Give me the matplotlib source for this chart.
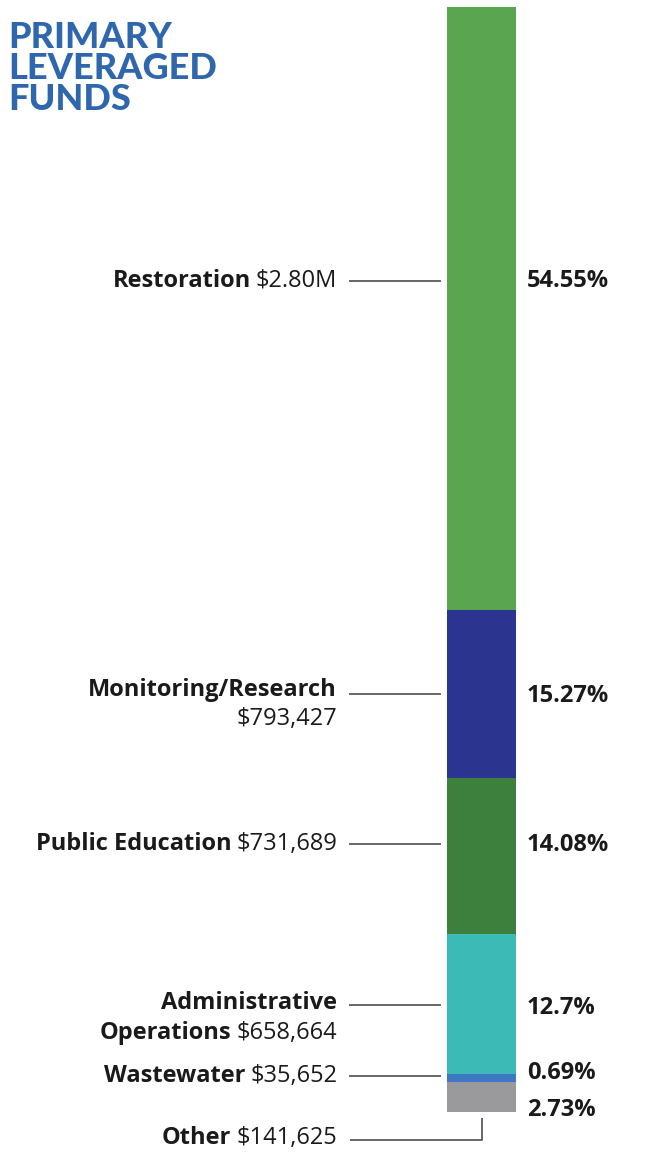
import matplotlib.pyplot as plt

# data, listed bottom-up of the stacked bar
names = ["Other", "Wastewater", "Administrative\nOperations", "Public Education",
         "Monitoring/Research", "Restoration"]
amounts = ["$141,625", "$35,652", "$658,664", "$731,689", "$793,427", "$2.80M"]
shares = [2.73, 0.69, 12.7, 14.08, 15.27, 54.55]
pct_labels = ["2.73%", "0.69%", "12.7%", "14.08%", "15.27%", "54.55%"]
colors = ["#9a9a9c", "#3f78c2", "#3cbab5", "#3d7f3d", "#2b3590", "#5aa550"]

W, H = 645, 1154
fig = plt.figure(figsize=(W / 100, H / 100), dpi=100)
ax = fig.add_axes([0, 0, 1, 1])
ax.axis("off")

# map pixel rows to percent: 0% at y=1112 px, 100% at y=7 px
px = 100 / 1105
ax.set_xlim(0, W)
ax.set_ylim(-(H - 1112) * px, 100 + 7 * px)

bottom = 0
for s, c in zip(shares, colors):
    ax.bar(481.5, s, width=69, bottom=bottom, color=c, linewidth=0)
    bottom += s


def ypix(y):
    # pixel row -> data value
    return (1112 - y) * px


fs = 17
font = ["Open Sans", "DejaVu Sans"]
line_col = "#666666"
txt_col = "#1a1a1a"

# leader line rows and pct rows (pixels), bottom-up order
line_rows = [1140, 1076, 1005, 844, 694, 281]
pct_rows = [1110, 1073, 1008, 845, 696, 281]

fig.canvas.draw()
r = fig.canvas.get_renderer()


def mixed(x, y, bold, reg):
    # bold part then regular part, right aligned at x
    t = ax.text(x, y, reg, ha="right", va="center", fontsize=fs,
                family=font, color=txt_col)
    bb = t.get_window_extent(renderer=r)
    left = ax.transData.inverted().transform((bb.x0, 0))[0]
    ax.text(left - 5, y, bold, ha="right", va="center", fontsize=fs,
            family=font, fontweight="bold", color=txt_col)


for i, n in enumerate(names):
    ly = line_rows[i]
    if n == "Monitoring/Research":
        ax.text(337, ypix(690), n, ha="right", va="center", fontsize=fs,
                family=font, fontweight="bold", color=txt_col)
        ax.text(337, ypix(719), amounts[i], ha="right", va="center",
                fontsize=fs, family=font, color=txt_col)
    elif "\n" in n:
        a, b = n.split("\n")
        ax.text(337, ypix(1003), a, ha="right", va="center", fontsize=fs,
                family=font, fontweight="bold", color=txt_col)
        mixed(337, ypix(1033), b, amounts[i])
    else:
        ty = 1138 if n == "Other" else ly
        mixed(337, ypix(ty), n, amounts[i])

    if n == "Other":
        ax.plot([350, 482, 482], [ypix(ly), ypix(ly), ypix(1118)],
                color=line_col, lw=1.4, solid_capstyle="butt")
    else:
        ax.plot([350, 440], [ypix(ly), ypix(ly)], color=line_col, lw=1.4)

    ax.text(527, ypix(pct_rows[i]), pct_labels[i], ha="left", va="center",
            fontsize=fs, family=font, fontweight="bold", color=txt_col)

# title
fig.text(8 / W, 1 - 21 / H, "PRIMARY\nLEVERAGED\nFUNDS", ha="left", va="top",
         fontsize=26, family="Lato", fontweight="black", color="#2e67ad",
         linespacing=0.93)

fig.savefig("out.png", dpi=100)
